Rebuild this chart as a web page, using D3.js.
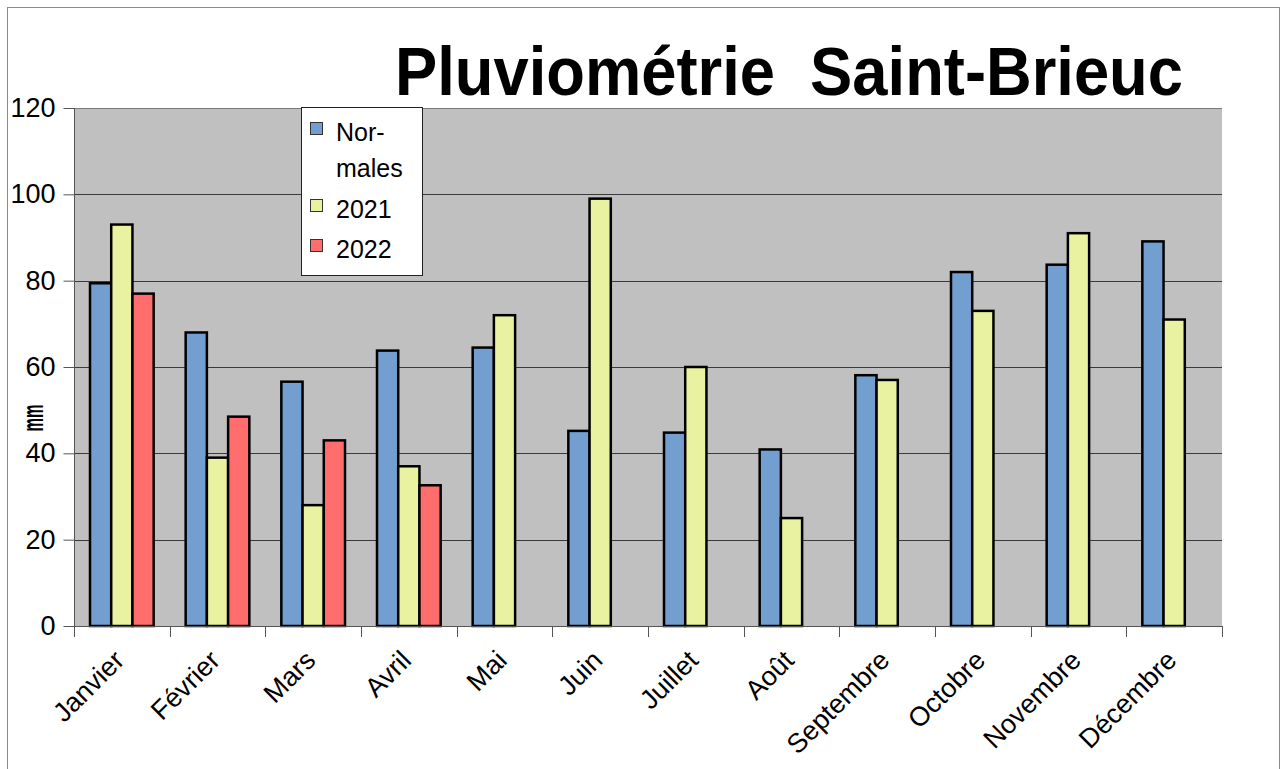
<!DOCTYPE html>
<html>
<head>
<meta charset="utf-8">
<script src="https://cdn.jsdelivr.net/npm/d3@7"></script>
<style>
  body { margin: 0; background: #fff; }
  text { font-family: "Liberation Sans", Arial, sans-serif; }
</style>
</head>
<body>
<div id="chart"></div>
<script>
var months = ["Janvier", "Février", "Mars", "Avril", "Mai", "Juin", "Juillet", "Août", "Septembre", "Octobre", "Novembre", "Décembre"];
var seriesNames = ["Normales", "2021", "2022"];
var normales = [79.4, 68, 56.6, 63.8, 64.5, 45.2, 44.8, 40.9, 58.1, 82, 83.7, 89.1];
var y2021 = [93, 39, 28, 37, 72, 99, 60, 25, 57, 73, 91, 71];
var y2022 = [77, 48.5, 43, 32.6, null, null, null, null, null, null, null, null];
var colors = ["#729fcf", "#e8f2a1", "#ff6d6d"];
var yTicks = [0, 20, 40, 60, 80, 100, 120];

var wid = 1282, heig = 769;
var pLeft = 74, pRight = 1222, pTop = 108, pBottom = 626;

var svg = d3.select("#chart").append("svg")
    .attr("width", wid)
    .attr("height", heig);

// outer frame
svg.append("rect")
    .attr("x", 7.5).attr("y", 7.5)
    .attr("width", 1272).attr("height", 800)
    .attr("fill", "#fff")
    .attr("stroke", "#8a8a8a")
    .attr("stroke-width", 1);

var x0 = d3.scaleBand().domain(months).range([pLeft, pRight]);
var x1 = d3.scaleBand().domain(seriesNames).range([16, x0.bandwidth() - 16]);
var y = d3.scaleLinear().domain([0, 120]).range([pBottom, pTop]);

// plot background
svg.append("rect")
    .attr("x", pLeft).attr("y", pTop)
    .attr("width", pRight - pLeft).attr("height", pBottom - pTop)
    .attr("fill", "#c0c0c0");

// grid lines
svg.append("g").selectAll("line")
    .data(yTicks)
    .enter().append("line")
    .attr("x1", pLeft).attr("x2", pRight)
    .attr("y1", function(d) { return Math.round(y(d)) + 0.5; })
    .attr("y2", function(d) { return Math.round(y(d)) + 0.5; })
    .attr("stroke", function(d) { return d == 120 ? "#7a7a7a" : "#3a3a3a"; })
    .attr("stroke-width", 1);

// bars
var table = months.map(function(m, i) {
  return { month: m, values: [normales[i], y2021[i], y2022[i]] };
});

var groups = svg.append("g").selectAll("g")
    .data(table)
    .enter().append("g")
    .attr("transform", function(d) { return "translate(" + x0(d.month) + ",0)"; });

groups.selectAll("rect")
    .data(function(d) {
      return d.values.map(function(v, k) { return { name: seriesNames[k], value: v, k: k }; })
        .filter(function(e) { return e.value != null; });
    })
    .enter().append("rect")
    .attr("x", function(d) { return x1(d.name); })
    .attr("y", function(d) { return y(d.value); })
    .attr("width", x1.bandwidth())
    .attr("height", function(d) { return y(0) - y(d.value); })
    .attr("fill", function(d) { return colors[d.k]; })
    .attr("stroke", "#000")
    .attr("stroke-width", 2.5);

// y axis
var yAxis = svg.append("g")
    .attr("transform", "translate(" + (pLeft + 0.5) + ",0)")
    .call(d3.axisLeft(y).tickValues(yTicks).tickSize(11).tickPadding(8));
yAxis.select(".domain").attr("stroke", "#555").attr("d", "M0," + pTop + "V" + (pBottom + 11));
yAxis.selectAll(".tick line").attr("stroke", "#555");
yAxis.selectAll(".tick text")
    .attr("font-size", 27)
    .attr("fill", "#000")
    .style("font-family", "Liberation Sans, Arial, sans-serif");

// x axis ticks at category boundaries
var xAxis = svg.append("g").attr("class", "xaxis");
xAxis.append("line")
    .attr("x1", pLeft).attr("x2", pRight)
    .attr("y1", pBottom + 0.5).attr("y2", pBottom + 0.5)
    .attr("stroke", "#555");
xAxis.selectAll("line.tk")
    .data(months.concat(["end"]))
    .enter().append("line")
    .attr("class", "tk")
    .attr("x1", function(d, i) { return Math.round(pLeft + i * x0.bandwidth()) + 0.5; })
    .attr("x2", function(d, i) { return Math.round(pLeft + i * x0.bandwidth()) + 0.5; })
    .attr("y1", pBottom).attr("y2", pBottom + 11)
    .attr("stroke", "#555");

xAxis.selectAll("text")
    .data(months)
    .enter().append("text")
    .attr("transform", function(d) {
      return "translate(" + (x0(d) + x0.bandwidth() / 2 + 4) + "," + 662 + ") rotate(-45)";
    })
    .attr("text-anchor", "end")
    .attr("font-size", 27)
    .text(function(d) { return d; });

// y axis title
svg.append("text")
    .attr("transform", "translate(43,418) rotate(-90)")
    .attr("text-anchor", "middle")
    .attr("font-size", 30)
    .attr("font-weight", "bold")
    .attr("textLength", 27)
    .attr("lengthAdjust", "spacingAndGlyphs")
    .text("mm");

// title
svg.append("text")
    .attr("x", 395).attr("y", 95)
    .attr("font-size", 68)
    .attr("font-weight", "bold")
    .attr("textLength", 788)
    .attr("lengthAdjust", "spacingAndGlyphs")
    .style("white-space", "pre")
    .text("Pluviométrie  Saint-Brieuc");

// legend
var legend = svg.append("g").attr("class", "legend");
legend.append("rect")
    .attr("x", 301.5).attr("y", 107.5)
    .attr("width", 121).attr("height", 168)
    .attr("fill", "#fff")
    .attr("stroke", "#222")
    .attr("stroke-width", 1);

var legItems = [
  { lines: ["Nor-", "males"], base: 141 },
  { lines: ["2021"], base: 218 },
  { lines: ["2022"], base: 258 }
];
legItems.forEach(function(it, k) {
  legend.append("rect")
      .attr("x", 310.5).attr("y", it.base - 18.5)
      .attr("width", 12).attr("height", 12)
      .attr("fill", colors[k])
      .attr("stroke", "#333")
      .attr("stroke-width", 1);
  it.lines.forEach(function(t, j) {
    legend.append("text")
        .attr("x", 336).attr("y", it.base + j * 36)
        .attr("font-size", 25)
        .text(t);
  });
});
</script>
</body>
</html>
